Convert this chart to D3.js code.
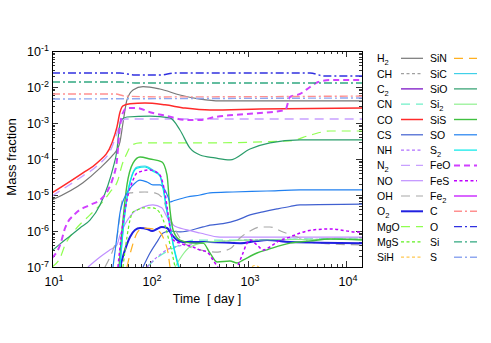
<!DOCTYPE html>
<html><head><meta charset="utf-8">
<script src="https://cdn.jsdelivr.net/npm/d3@7"></script>
<style>
body{margin:0;background:#fff}
svg{display:block}
text{font-family:"Liberation Sans",Arial,Helvetica,sans-serif;fill:#000}
</style>
</head><body>
<svg id="chart" width="491" height="343"></svg>
<script>
// ---- data: [time (day), mass fraction] ----
const H2  = [[10,7.3e-6],[20.7,2.2e-5],[30.9,5.6e-5],[41.9,1.3e-4],[46,1.8e-4],[49.4,3.0e-4],[53,1.0e-3],[58.2,4.4e-3],[67.1,8.3e-3],[84.9,1.03e-2],[126,8.8e-3],[202,6.0e-3],[324,4.6e-3],[518,4.1e-3],[14560,4.1e-3]];
const CH  = [];
const C2  = [];
const CN  = [[93.2,1e-7],[118,1.8e-7],[160,3.0e-7],[202,4.1e-7],[275,5.6e-7],[655,5.6e-7],[3395,6.0e-7],[14560,6.4e-7]];
const CO  = [[10,1.14e-5],[20.7,4.1e-5],[28.8,7.7e-5],[40.9,2.8e-4],[46,7.7e-4],[49.4,2.0e-3],[53,3.0e-3],[62.5,3.4e-3],[88.9,3.6e-3],[142,3.2e-3],[228,2.6e-3],[409,2.3e-3],[1324,2.45e-3],[14560,2.6e-3]];
const CS  = [[84.9,1e-7],[100,2.45e-7],[118,5.0e-7],[136,8.8e-7],[160,1.0e-6],[202,9.4e-7],[348,1.3e-6],[409,1.45e-6],[556,1.6e-6],[773,2.0e-6],[1048,2.8e-6],[1422,3.4e-6],[1977,4.1e-6],[2683,4.8e-6],[3395,5.3e-6],[14560,5.6e-6]];
const NH  = [[93.2,1e-7],[118,1.9e-7],[149,3.0e-7],[202,3.9e-7],[324,4.6e-7],[1048,5.6e-7],[14560,6.0e-7]];
const N2  = [[10,9.4e-6],[20.7,3.4e-5],[28.8,6.4e-5],[40.9,2.15e-4],[46,5.3e-4],[50.6,1.07e-3],[55.6,1.29e-3],[300,1.29e-3],[14560,1.29e-3]];
const NO  = [[23.3,1e-7],[30.9,1.9e-7],[39.1,3.0e-7],[46,4.1e-7],[49.4,7.7e-7],[53,1.2e-6],[67.1,3.2e-6],[84.9,4.6e-6],[107,5.3e-6],[132,4.4e-6],[149,2.45e-6],[172,1.47e-6],[239,1.07e-6],[324,8.8e-7],[518,6.8e-7],[1048,6.8e-7],[14560,6.8e-7]];
const OH  = [[34.7,1e-7],[41.9,3.0e-7],[46,6.8e-7],[49.4,2.8e-6],[53,8.3e-6],[62.5,1.14e-5],[88.9,1.21e-5],[112,1.14e-5],[136,7.7e-6],[149,3.8e-6],[172,1.47e-6],[202,6.4e-7],[256,3.6e-7],[324,3.0e-7],[460,2.6e-7],[655,3.2e-7],[828,6.4e-7],[1048,1.0e-6],[1324,1.29e-6],[1675,1.29e-6],[2276,9.4e-7],[3162,6.8e-7],[4292,4.95e-7],[6868,4.4e-7],[14560,4.1e-7]];
const O2  = [[49.4,1e-7],[55.6,3.0e-7],[62.5,6.8e-7],[70.3,1.07e-6],[79.1,1.21e-6],[93.2,1.14e-6],[105,1.0e-6],[118,1.14e-6],[132,1.29e-6],[149,1.21e-6],[168,7.7e-7],[189,5.6e-7],[217,4.95e-7],[409,4.95e-7],[828,4.6e-7],[1235,5.3e-7],[1563,5.6e-7],[2683,4.95e-7],[14560,4.6e-7]];
const MgO = [[10,1e-7],[12.1,1.8e-7],[13.6,4.1e-7],[17.2,1.07e-6],[24.4,2.8e-6],[30.9,5.3e-6],[39.1,1.2e-5],[47.1,2.6e-5],[51.8,6.8e-5],[57,1.29e-4],[65.5,2.45e-4],[79.1,2.8e-4],[324,2.8e-4],[2683,3.2e-4],[4292,4.6e-4],[6868,6.0e-4],[14560,6.0e-4]];
const MgS = [[53,1e-7],[58.2,6.8e-7],[62.5,2.0e-6],[67.1,3.4e-6],[73.7,3.8e-6],[84.9,4.4e-6],[107,4.4e-6],[126,3.2e-6],[142,1.47e-6],[153,6.8e-7],[168,2.45e-7],[180,1e-7],[190,5e-8]];
const SiH = [[1000,8e-8],[1178,1.1e-7],[1400,8e-8]];
const SiN = [[58.2,1e-7],[65.5,3.6e-7],[73.7,8.8e-7],[84.9,1.21e-6],[107,1.14e-6],[126,9.4e-7],[142,4.95e-7],[153,2.45e-7],[160,1e-7],[172,5e-8]];
const SiC = [[49.4,1e-7],[53,1.07e-6],[58.2,8.8e-6],[65.5,3.6e-5],[73.7,6.0e-5],[88.9,6.4e-5],[107,4.95e-5],[126,3.6e-5],[136,1.67e-5],[149,3.8e-6],[160,1.47e-6],[172,4.6e-7],[189,1.56e-7],[198,1e-7],[228,4e-8]];
const SiO = [[10,2.8e-7],[12.1,4.4e-7],[15.3,7.3e-7],[19.3,1.21e-6],[24.4,2.0e-6],[30.9,5.3e-6],[37.3,1.9e-5],[41.9,5.6e-5],[46,1.78e-4],[48.3,6.4e-4],[50.6,1.21e-3],[58.2,1.47e-3],[100,1.56e-3],[160,1.38e-3],[202,6.4e-4],[256,2.0e-4],[324,1.29e-4],[460,1.07e-4],[655,9.4e-5],[1048,1.9e-4],[1675,2.8e-4],[3395,3.4e-4],[14560,3.4e-4]];
const Si2 = [[180,1e-7],[256,3.6e-7],[409,5.0e-7],[1048,5.6e-7],[14560,6.0e-7]];
const SiS = [[48.3,1e-7],[53,2.0e-6],[58.2,1.9e-5],[67.1,7.7e-5],[79.1,1.14e-4],[100,1.0e-4],[132,8.3e-5],[149,3.6e-5],[160,3.8e-6],[172,1.07e-6],[202,5.6e-7],[275,4.6e-7],[348,4.6e-7],[409,2.45e-7],[483,1.38e-7],[655,1.47e-7],[773,1.29e-7],[889,1.56e-7],[1235,2.45e-7],[1563,3.0e-7],[2683,4.6e-7],[4292,5.3e-7],[6868,6.0e-7],[14560,5.6e-7]];
const SO  = [[41.9,1e-7],[46,6.8e-7],[49.4,3.2e-6],[58.2,1.14e-5],[67.1,1.9e-5],[79.1,2.6e-5],[93.2,2.3e-5],[107,1.9e-5],[126,1.9e-5],[142,1.38e-5],[153,8.8e-6],[160,6.4e-6],[172,6.8e-6],[239,8.8e-6],[324,1.0e-5],[409,1.14e-5],[703,1.21e-5],[1563,1.29e-5],[3395,1.38e-5],[14560,1.38e-5]];
const S2  = [[49.4,1e-7],[53,9.4e-7],[58.2,8.0e-6],[65.5,3.4e-5],[73.7,5.6e-5],[88.9,6.0e-5],[107,4.6e-5],[126,3.4e-5],[136,1.5e-5],[149,3.4e-6],[160,1.3e-6],[172,4.2e-7],[189,1.4e-7],[198,9e-8],[228,4e-8]];
const FeO = [[10,1.78e-7],[12.1,4.1e-7],[13.6,1.21e-6],[17.2,3.0e-6],[24.4,5.3e-6],[30.9,7.3e-6],[37.3,1.38e-5],[41.9,3.0e-5],[46,9.4e-5],[48.3,4.6e-4],[51.8,1.67e-3],[58.2,2.6e-3],[73.7,2.6e-3],[100,2.0e-3],[149,1.56e-3],[239,1.21e-3],[324,1.21e-3],[460,1.47e-3],[703,1.67e-3],[1324,1.9e-3],[2400,2.3e-3],[2683,5.3e-3],[3395,6.4e-3],[4292,1.0e-2],[5200,1.38e-2],[6868,1.56e-2],[14560,1.56e-2]];
const FeS = [[47.1,1e-7],[51.8,1.07e-6],[58.2,7.3e-6],[67.1,2.6e-5],[73.7,4.1e-5],[100,4.95e-5],[126,3.6e-5],[142,1.14e-5],[160,1.29e-6],[172,5.6e-7],[202,4.6e-7],[275,3.6e-7],[324,2.97e-7],[382,2.6e-7],[440,1.56e-7],[490,1e-7],[600,5e-8],[773,1e-7],[889,2.45e-7],[977,4.6e-7],[1048,5.6e-7],[1235,4.1e-7],[1422,2.97e-7],[1675,3.6e-7],[1977,4.95e-7],[2683,6.8e-7],[3395,8.8e-7],[4604,1.07e-6],[6868,1.14e-6],[12950,9.4e-7],[14560,9.4e-7]];
const Fe2 = [];
const C   = [[10,6.4e-3],[43.9,6.4e-3],[55.6,5.6e-3],[126,5.3e-3],[14560,5.6e-3]];
const O   = [[10,2.45e-2],[49.4,2.45e-2],[70.3,2.15e-2],[126,2.15e-2],[180,2.45e-2],[4292,2.45e-2],[6000,2.02e-2],[14560,2.02e-2]];
const Si  = [[10,1.38e-2],[49.4,1.38e-2],[70.3,1.29e-2],[14560,1.29e-2]];
const S   = [[10,4.64e-3],[14560,4.95e-3]];

const seriesNames = ["H2","CH","C2","CN","CO","CS","NH","N2","NO","OH","O2","MgO","MgS","SiH",
                     "SiN","SiC","SiO","Si2","SiS","SO","S2","FeO","FeS","Fe2","C","O","Si","S"];
const seriesData = {H2,CH,C2,CN,CO,CS,NH,N2,NO,OH,O2,MgO,MgS,SiH,SiN,SiC,SiO,Si2,SiS,SO,S2,FeO,FeS,Fe2,C,O,Si,S};
const xTickValues = [10,100,1000,10000];
const yTickValues = [1e-7,1e-6,1e-5,1e-4,1e-3,1e-2,1e-1];
const xLabel = "Time  [ day ]";
const yLabel = "Mass fraction";

// ---- styles ----
const DASH = "9,6", DASHB = "6,4", DOT = "3,2.5", DASHDOT = "8,3,2,3";
const styles = {
  H2:{c:"#777777"}, CH:{c:"#a0a0a0",d:DOT}, C2:{c:"#7000c0"}, CN:{c:"#70f0c8",d:DASH},
  CO:{c:"#ff2a2a",w:1.5}, CS:{c:"#4060d0"}, NH:{c:"#b070ff",d:DOT}, N2:{c:"#c8a0ff",d:DASH,w:1.4},
  NO:{c:"#c090ff"}, OH:{c:"#a8a8a8",d:DASH}, O2:{c:"#2020e0",w:2}, MgO:{c:"#90ff50",d:DASH},
  MgS:{c:"#60f020",d:DOT}, SiH:{c:"#ffc850",d:DOT}, SiN:{c:"#ffb020",d:DASH}, SiC:{c:"#40d0e8"},
  SiO:{c:"#2a9d6a"}, Si2:{c:"#90f090"}, SiS:{c:"#40c040",w:1.4}, SO:{c:"#2080f0"}, S2:{c:"#00e8e8"},
  FeO:{c:"#d040ff",d:DASHB,w:2}, FeS:{c:"#c000ff",d:DOT,w:1.5}, Fe2:{c:"#c000ff"},
  C:{c:"#ff9090",d:DASHDOT,w:1.4}, O:{c:"#3030e0",d:DASHDOT,w:1.4}, Si:{c:"#30a880",d:DASHDOT,w:1.4}, S:{c:"#90a8f0",d:DASHDOT,w:1.4}
};

const svg = d3.select("#chart");
const L = 52, R = 362, T = 51, B = 267;
const x = d3.scaleLog().domain([10,14560]).range([L,R]);
const y = d3.scaleLog().domain([1e-7,1e-1]).range([B,T]);

svg.append("defs").append("clipPath").attr("id","clip")
  .append("rect").attr("x",L).attr("y",T).attr("width",R-L).attr("height",B-T);

function minorTicks(domain){
  const out=[];
  const lo=Math.floor(Math.log10(domain[0])), hi=Math.ceil(Math.log10(domain[1]));
  for(let e=lo;e<=hi;e++) for(let m=1;m<=9;m++){
    const v=m*Math.pow(10,e);
    if(v>=domain[0]*0.999 && v<=domain[1]*1.001) out.push({v, major:m===1});
  }
  return out;
}
const tg = svg.append("g").attr("stroke","#000").attr("stroke-width",0.8);
minorTicks(x.domain()).forEach(t=>{
  const len=t.major?6:3, px=Math.round(x(t.v))+0.5;
  tg.append("line").attr("x1",px).attr("x2",px).attr("y1",B).attr("y2",B-len);
  tg.append("line").attr("x1",px).attr("x2",px).attr("y1",T).attr("y2",T+len);
});
minorTicks(y.domain()).forEach(t=>{
  const len=t.major?6:3, py=Math.round(y(t.v))+0.5;
  tg.append("line").attr("x1",L).attr("x2",L+len).attr("y1",py).attr("y2",py);
  tg.append("line").attr("x1",R).attr("x2",R-len).attr("y1",py).attr("y2",py);
});

const line = d3.line().x(d=>x(d[0])).y(d=>y(d[1])).curve(d3.curveMonotoneX);
const plot = svg.append("g").attr("clip-path","url(#clip)");
seriesNames.forEach(n=>{
  const data = seriesData[n]; if(!data.length) return;
  const s = styles[n];
  plot.append("path").datum(data).attr("d",line).attr("fill","none")
    .attr("stroke",s.c).attr("stroke-width",s.w||1.2).attr("stroke-dasharray",s.d||null)
    .attr("stroke-linejoin","round");
});

svg.append("rect").attr("x",L+0.5).attr("y",T+0.5).attr("width",R-L).attr("height",B-T)
  .attr("fill","none").attr("stroke","#000").attr("stroke-width",1);

function expLabel(g, v, xx, yy, anchor){
  const e = Math.round(Math.log10(v));
  const t = g.append("text").attr("x",xx).attr("y",yy).attr("text-anchor",anchor).attr("font-size",12.5);
  t.append("tspan").text("10");
  t.append("tspan").attr("dy",-5).attr("font-size",9).text(String(e));
}
const lab = svg.append("g");
xTickValues.forEach(v=>expLabel(lab, v, x(v)+2, 286, "middle"));
yTickValues.forEach(v=>expLabel(lab, v, 49, y(v)+5, "end"));

svg.append("text").attr("x",(L+R)/2).attr("y",303).attr("text-anchor","middle").attr("font-size",12.5)
  .style("white-space","pre").text(xLabel);
svg.append("text").attr("transform","translate(16,157) rotate(-90)").attr("text-anchor","middle").attr("font-size",13).text(yLabel);

const lg = svg.append("g");
seriesNames.forEach((n,i)=>{
  const col = Math.floor(i/14), row = i%14;
  const cy = 58.3 + row*15.3;
  const lx = col? 430 : 377, sx1 = col? 454 : 401, sx2 = col? 477 : 423;
  const t = lg.append("text").attr("x",lx).attr("y",cy+4).attr("font-size",10.5);
  const m = n.match(/^([A-Za-z]+)(\d*)$/);
  t.append("tspan").text(m[1]);
  if(m[2]) t.append("tspan").attr("dy",3).attr("font-size",7.5).text(m[2]);
  const s = styles[n];
  lg.append("line").attr("x1",sx1).attr("x2",sx2).attr("y1",cy).attr("y2",cy)
    .attr("stroke",s.c).attr("stroke-width",s.w||1.2).attr("stroke-dasharray",s.d||null);
});
</script>
</body></html>
